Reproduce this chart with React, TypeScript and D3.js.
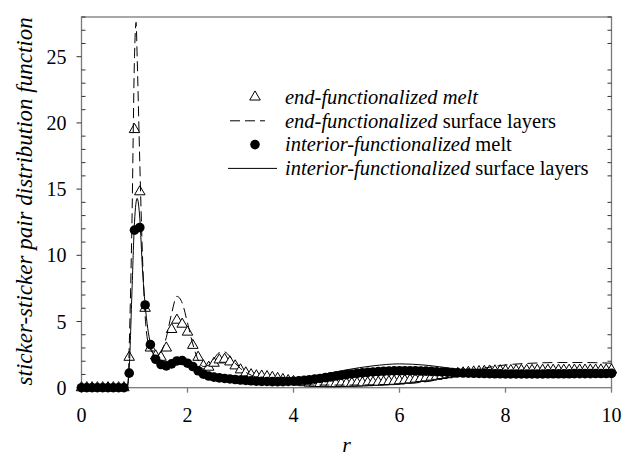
import React from "react";
import * as d3 from "d3";

// r grid of the scatter series: 0.0, 0.1, ... 10.0
const gridStep = 0.1;

// end-functionalized melt (open triangles), one value per grid point
const endMelt = [
  0, 0, 0, 0, 0, 0, 0, 0, 0,
  2.3, 19.5, 14.8, 6.0, 3.0, 2.4, 2.3, 3.0, 4.4, 5.1, 4.8, 4.2, 3.2, 2.3, 1.65, 1.55,
  1.85, 2.1, 2.15, 1.95, 1.65, 1.35, 1.12, 0.98, 0.9, 0.88, 0.84, 0.78, 0.7, 0.62, 0.54,
  0.47, 0.42, 0.38, 0.35, 0.33, 0.32, 0.31, 0.31, 0.31, 0.32, 0.33, 0.34, 0.35, 0.37, 0.38,
  0.4, 0.42, 0.44, 0.46, 0.49, 0.52, 0.56, 0.6, 0.65, 0.7, 0.75, 0.8, 0.86, 0.92, 0.98,
  1.03, 1.08, 1.12, 1.16, 1.19, 1.22, 1.24, 1.26, 1.27, 1.28, 1.29,
  1.3, 1.3, 1.31, 1.31, 1.31, 1.32, 1.32, 1.32, 1.32, 1.32,
  1.32, 1.32, 1.33, 1.33, 1.33, 1.33, 1.33, 1.34, 1.34, 1.34,
];

// interior-functionalized melt (filled circles), one value per grid point
const interiorMelt = [
  0, 0, 0, 0, 0, 0, 0, 0, 0,
  1.1, 11.9, 12.1, 6.25, 3.25, 2.15, 1.75, 1.65, 1.8, 2.02, 2.05, 1.85, 1.6, 1.28, 1.02, 0.88,
  0.8, 0.74, 0.7, 0.66, 0.62, 0.58, 0.55, 0.52, 0.5, 0.48, 0.47, 0.46, 0.46, 0.46, 0.47,
  0.49, 0.52, 0.56, 0.6, 0.65, 0.7, 0.76, 0.82, 0.88, 0.94, 0.99, 1.04, 1.08, 1.12, 1.16,
  1.19, 1.22, 1.24, 1.26, 1.27, 1.28, 1.28, 1.28, 1.27, 1.26, 1.25, 1.23, 1.21, 1.19, 1.17,
  1.15, 1.13, 1.11, 1.1, 1.09, 1.08, 1.07, 1.06, 1.05, 1.05, 1.04,
  1.04, 1.04, 1.04, 1.04, 1.04, 1.04, 1.04, 1.05, 1.05, 1.05,
  1.05, 1.05, 1.06, 1.06, 1.06, 1.06, 1.07, 1.07, 1.07, 1.08,
];

// end-functionalized surface layers (dashed line)
const endSurfR = [0, 0.85, 0.88, 0.9, 0.95, 1.0, 1.03, 1.05, 1.1, 1.15, 1.2, 1.25, 1.3, 1.4, 1.5, 1.6, 1.7, 1.8, 1.9, 2.0, 2.1, 2.2, 2.3, 2.4, 2.5, 2.6, 2.7, 2.8, 2.9, 3.0, 3.2, 3.4, 3.6, 3.8, 4.0, 4.5, 5.0, 5.5, 6.0, 6.5, 7.0, 7.5, 8.0, 8.5, 9.0, 9.5, 10.0];
const endSurfV = [0, 0, 0.3, 3, 12, 25, 27.6, 25, 17, 10, 5.5, 3.5, 2.9, 2.5, 2.7, 3.8, 5.6, 6.9, 6.4, 4.9, 3.3, 2.1, 1.6, 1.7, 2.2, 2.65, 2.7, 2.35, 1.85, 1.45, 0.95, 0.7, 0.5, 0.35, 0.27, 0.2, 0.2, 0.22, 0.28, 0.45, 0.85, 1.4, 1.72, 1.85, 1.9, 1.9, 1.85];

// interior-functionalized surface layers (solid line)
const intSurfR = [0, 0.85, 0.9, 0.95, 1.0, 1.05, 1.1, 1.15, 1.2, 1.3, 1.4, 1.5, 1.6, 1.7, 1.8, 1.9, 2.0, 2.1, 2.2, 2.3, 2.4, 2.6, 2.8, 3.0, 3.5, 4.0, 4.5, 5.0, 5.5, 6.0, 6.5, 7.0, 7.5, 8.0, 8.5, 9.0, 9.5, 10.0];
const intSurfV = [0, 0, 1.5, 7, 12.5, 14.3, 12.8, 9, 6.3, 3.3, 2.2, 1.8, 1.75, 1.9, 2.15, 2.15, 1.95, 1.6, 1.25, 1.0, 0.85, 0.72, 0.65, 0.6, 0.55, 0.6, 0.95, 1.35, 1.65, 1.8, 1.7, 1.45, 1.2, 1.05, 0.97, 0.95, 1.0, 1.05];

const xTicks = [0, 2, 4, 6, 8, 10];
const yTicks = [0, 5, 10, 15, 20, 25];
const yMinor = d3.range(0, 29, 1);

const legendItems = [
  { kind: "tri", it: "end-functionalized melt", rest: "" },
  { kind: "dash", it: "end-functionalized", rest: " surface layers" },
  { kind: "dot", it: "interior-functionalized", rest: " melt" },
  { kind: "line", it: "interior-functionalized", rest: " surface layers" },
];

const W = 623, H = 460;
const L = 81.5, R = 611.5, T = 17, B = 387.7;
const fontStyle = { fontFamily: "Liberation Serif" };
const frameColor = "#7a7a7a";

export default function App() {
  const x = d3.scaleLinear().domain([0, 10]).range([L, R]);
  const y = d3.scaleLinear().domain([0, 28]).range([B, T]);
  const line = d3.line<[number, number]>().x((d) => x(d[0])).y((d) => y(d[1])).curve(d3.curveMonotoneX);
  const dashPts = endSurfR.map((r, i) => [r, endSurfV[i]] as [number, number]);
  const solidPts = intSurfR.map((r, i) => [r, intSurfV[i]] as [number, number]);
  const tri = d3.symbol().type(d3.symbolTriangle).size(48)()!;

  return (
    <svg width={W} height={H} style={{ position: "absolute", left: 0, top: 0, background: "#fff" }}>
      {/* frame */}
      <rect x={L} y={T} width={R - L} height={B - T} fill="none" stroke={frameColor} strokeWidth={1.3} />
      {/* y ticks */}
      {yMinor.filter((v) => v % 5 !== 0).map((v) => (
        <g key={"m" + v}>
          <line x1={L} x2={L + 4} y1={y(v)} y2={y(v)} stroke="#333" strokeWidth={1} />
          <line x1={R - 4} x2={R} y1={y(v)} y2={y(v)} stroke="#333" strokeWidth={1} />
        </g>
      ))}
      {yTicks.map((v) => (
        <g key={"y" + v}>
          <line x1={L - 5} x2={L} y1={y(v)} y2={y(v)} stroke="#333" strokeWidth={1} />
          <text x={L - 15} y={y(v)} dy="0.35em" textAnchor="end" fontSize={20} style={fontStyle}>{v}</text>
        </g>
      ))}
      {xTicks.map((v) => (
        <g key={"x" + v}>
          <line x1={x(v)} x2={x(v)} y1={B} y2={B + 5} stroke={frameColor} strokeWidth={1.3} />
          <text x={x(v)} y={422} textAnchor="middle" fontSize={20} style={fontStyle}>{v}</text>
        </g>
      ))}
      {/* axis titles */}
      <text x={(L + R) / 2} y={452} textAnchor="middle" fontSize={22} fontStyle="italic" style={fontStyle}>r</text>
      <text transform={`translate(32,${(T + B) / 2 - 1}) rotate(-90)`} textAnchor="middle" fontSize={23} fontStyle="italic" style={fontStyle}>
        sticker-sticker pair distribution function
      </text>

      {/* triangles */}
      {endMelt.map((v, i) => (
        <path key={"t" + i} d={tri} transform={`translate(${x(i * gridStep)},${y(v)})`} fill="#fff" stroke="#000" strokeWidth={1} />
      ))}
      {/* circles */}
      {interiorMelt.map((v, i) => (
        <circle key={"c" + i} cx={x(i * gridStep)} cy={y(v)} r={4.8} fill="#000" />
      ))}
      {/* lines */}
      <path d={line(dashPts)!} fill="none" stroke="#000" strokeWidth={1} strokeDasharray="10,5" />
      <path d={line(solidPts)!} fill="none" stroke="#000" strokeWidth={1} />

      {/* legend */}
      {legendItems.map((it, i) => {
        const cy = 97 + i * 23.8;
        return (
          <g key={"l" + i}>
            {it.kind === "tri" && <path d={tri} transform={`translate(255,${cy})`} fill="#fff" stroke="#000" />}
            {it.kind === "dot" && <circle cx={255} cy={cy} r={4.8} fill="#000" />}
            {it.kind === "dash" && <line x1={230} x2={265} y1={cy} y2={cy} stroke="#000" strokeDasharray="10,5" />}
            {it.kind === "line" && <line x1={228} x2={277} y1={cy} y2={cy} stroke="#000" />}
            <text x={285} y={cy} dy="0.33em" fontSize={20.5} style={fontStyle}>
              <tspan fontStyle="italic">{it.it}</tspan>
              {it.rest}
            </text>
          </g>
        );
      })}
    </svg>
  );
}
